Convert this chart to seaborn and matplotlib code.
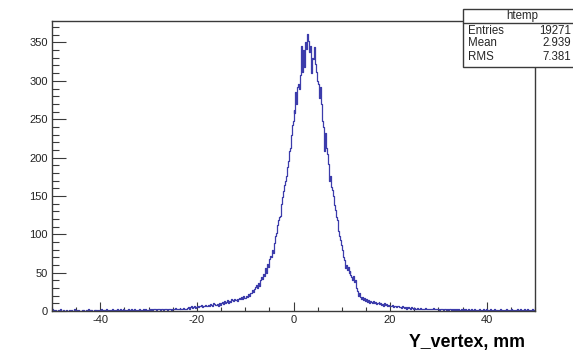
import numpy as np
import pandas as pd
import matplotlib
matplotlib.use("Agg")
import matplotlib.pyplot as plt
from matplotlib.patches import Rectangle
from matplotlib.lines import Line2D
from matplotlib.ticker import MultipleLocator
import seaborn as sns

# Histogram range and binning (500 bins of 0.2 mm)
x_min, x_max, n_bins = -50.0, 50.0, 500

# Bin contents, 10 bins (2 mm) per row
counts = [
    # -50 .. -40
    2, 1, 0, 1, 0, 0, 1, 0, 2, 0,
    0, 1, 0, 0, 1, 1, 0, 0, 1, 0,
    1, 0, 0, 2, 0, 1, 0, 1, 0, 0,
    0, 1, 1, 0, 0, 1, 0, 2, 0, 1,
    1, 0, 0, 1, 0, 1, 1, 0, 1, 0,
    # -40 .. -30
    1, 2, 0, 1, 1, 0, 2, 1, 0, 1,
    0, 1, 2, 1, 0, 1, 1, 2, 0, 1,
    2, 1, 0, 1, 2, 1, 0, 1, 1, 2,
    1, 0, 2, 1, 1, 2, 1, 0, 1, 1,
    2, 1, 1, 0, 2, 1, 2, 1, 1, 0,
    # -30 .. -20
    2, 1, 3, 2, 1, 2, 2, 3, 1, 2,
    2, 3, 1, 2, 2, 1, 3, 2, 2, 1,
    2, 3, 2, 1, 3, 2, 3, 4, 2, 3,
    3, 2, 4, 3, 2, 3, 4, 3, 2, 3,
    4, 5, 3, 5, 6, 4, 5, 6, 4, 5,
    # -20 .. -10
    6, 5, 7, 6, 8, 5, 7, 6, 8, 7,
    6, 7, 8, 6, 9, 8, 7, 10, 9, 8,
    8, 9, 7, 10, 8, 11, 12, 9, 13, 11,
    12, 14, 11, 13, 12, 15, 14, 13, 16, 14,
    14, 16, 13, 15, 17, 15, 18, 16, 19, 17,
    # -10 .. 0
    17, 20, 18, 22, 19, 24, 23, 28, 25, 29,
    31, 34, 30, 36, 33, 40, 44, 42, 48, 46,
    52, 56, 50, 61, 58, 68, 72, 70, 80, 76,
    88, 98, 102, 112, 118, 122, 124, 140, 148, 156,
    164, 170, 176, 188, 196, 208, 212, 230, 242, 248,
    # 0 .. 10
    262, 258, 286, 270, 292, 296, 290, 308, 345, 312,
    340, 318, 350, 342, 361, 352, 338, 346, 310, 330,
    328, 344, 322, 312, 300, 296, 278, 292, 270, 262,
    248, 240, 208, 232, 212, 205, 192, 170, 176, 162,
    158, 150, 138, 132, 122, 118, 104, 98, 92, 86,
    # 10 .. 20
    80, 70, 66, 56, 60, 54, 58, 50, 52, 47,
    44, 40, 45, 38, 40, 30, 26, 20, 24, 18,
    16, 18, 14, 17, 13, 15, 12, 14, 11, 13,
    12, 10, 13, 11, 12, 9, 11, 10, 12, 9,
    10, 8, 9, 7, 10, 8, 9, 7, 8, 6,
    # 20 .. 30
    7, 6, 8, 5, 7, 6, 5, 7, 6, 5,
    5, 4, 6, 5, 4, 5, 3, 5, 4, 5,
    4, 3, 5, 4, 3, 4, 3, 2, 4, 3,
    3, 4, 2, 3, 3, 2, 4, 3, 2, 3,
    2, 3, 3, 2, 4, 2, 3, 2, 3, 2,
    # 30 .. 40
    2, 1, 3, 2, 2, 1, 2, 3, 1, 2,
    1, 2, 2, 1, 3, 1, 2, 1, 2, 1,
    2, 1, 1, 2, 1, 2, 1, 1, 2, 1,
    1, 2, 1, 1, 2, 1, 0, 2, 1, 1,
    1, 1, 2, 1, 0, 1, 2, 1, 1, 2,
    # 40 .. 50
    1, 0, 1, 2, 1, 1, 0, 1, 2, 1,
    1, 1, 0, 1, 2, 1, 1, 0, 1, 1,
    2, 1, 1, 0, 1, 2, 1, 1, 0, 1,
    1, 2, 1, 1, 2, 1, 0, 1, 1, 2,
    1, 1, 2, 1, 1, 0, 1, 2, 1, 1,
]
assert len(counts) == n_bins

# Statistics box content
stats_title = "htemp"
stats_names = ["Entries", "Mean", "RMS"]
stats_values = ["19271", "2.939", "7.381"]

x_title = "Y_vertex, mm"

bin_w = (x_max - x_min) / n_bins
centers = x_min + bin_w * (np.arange(n_bins) + 0.5)
df = pd.DataFrame({"Y_vertex": centers, "n": np.asarray(counts, dtype=float)})

sns.set_style("ticks")
plt.rcParams["font.family"] = ["Liberation Sans", "DejaVu Sans"]
plt.rcParams["axes.unicode_minus"] = False

W, H = 573, 354
fig = plt.figure(figsize=(W / 100, H / 100), dpi=100)
fig.patch.set_facecolor("white")

# axes frame in pixel units
L, R, T, B = 52, 535, 21, 311
ax = fig.add_axes([L / W, 1 - B / H, (R - L) / W, (B - T) / H])

sns.histplot(data=df, x="Y_vertex", weights="n", bins=n_bins,
             binrange=(x_min, x_max), element="step", fill=False,
             color="#3c3cab", linewidth=0.9, ax=ax)

ax.set_xlim(x_min, x_max)
ax.set_ylim(0, 378)
ax.set_xlabel("")
ax.set_ylabel("")

frame_col = "#3a3a3a"
for s in ax.spines.values():
    s.set_visible(True)
    s.set_color(frame_col)
    s.set_linewidth(1.0)

ax.xaxis.set_major_locator(MultipleLocator(20))
ax.xaxis.set_minor_locator(MultipleLocator(5))
ax.yaxis.set_major_locator(MultipleLocator(50))
ax.yaxis.set_minor_locator(MultipleLocator(10))

ax.tick_params(axis="x", which="major", direction="in", length=6.3, width=0.8,
               color=frame_col, labelsize=8, pad=3, top=False)
ax.tick_params(axis="x", which="minor", direction="in", length=3.2, width=0.8,
               color=frame_col, top=False)
ax.tick_params(axis="y", which="major", direction="in", length=10.4, width=0.8,
               color=frame_col, labelsize=8, pad=3, right=False)
ax.tick_params(axis="y", which="minor", direction="in", length=5.2, width=0.8,
               color=frame_col, right=False)
for lab in ax.get_xticklabels() + ax.get_yticklabels():
    lab.set_color("#222222")

# axis title, right aligned under the x axis
fig.text(525 / W, 1 - 343 / H, x_title, ha="right", va="center",
         fontsize=12.8, fontweight="bold", color="black")

# statistics box in the top right corner (extends past the canvas edge)
bx0, bx1, by0, by1, bsep = 462.7, 581, 9, 66.7, 23.3
box = Rectangle((bx0 / W, 1 - by1 / H), (bx1 - bx0) / W, (by1 - by0) / H,
                transform=fig.transFigure, facecolor="white",
                edgecolor=frame_col, linewidth=1.0, zorder=5)
fig.add_artist(box)
fig.add_artist(Line2D([bx0 / W, bx1 / W], [1 - bsep / H, 1 - bsep / H],
                      transform=fig.transFigure, color=frame_col,
                      linewidth=1.0, zorder=6))
fig.text((bx0 + bx1) / 2 / W, 1 - (by0 + bsep) / 2 / H, stats_title,
         ha="center", va="center", fontsize=8.3, zorder=7)
row_y = [30.7, 43.3, 56.7]
for name, val, yy in zip(stats_names, stats_values, row_y):
    fig.text(468 / W, 1 - yy / H, name, ha="left", va="center",
             fontsize=8.3, zorder=7)
    fig.text(571.5 / W, 1 - yy / H, val, ha="right", va="center",
             fontsize=8.3, zorder=7)

fig.savefig("out.png", dpi=100)
